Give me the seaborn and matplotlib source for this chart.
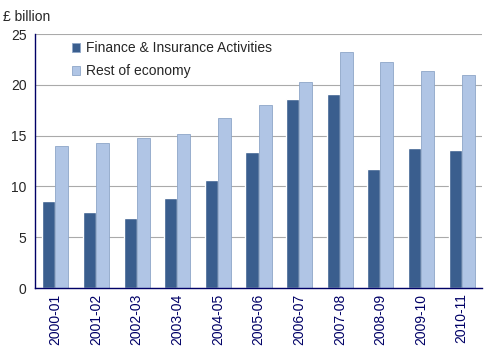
import pandas as pd
import seaborn as sns
import matplotlib.pyplot as plt

# data
years = ["2000-01", "2001-02", "2002-03", "2003-04", "2004-05", "2005-06",
         "2006-07", "2007-08", "2008-09", "2009-10", "2010-11"]
finance = [8.6, 7.5, 6.9, 8.9, 10.6, 13.4, 18.6, 19.1, 11.7, 13.8, 13.6]
rest = [14.0, 14.3, 14.8, 15.2, 16.7, 18.0, 20.3, 23.2, 22.2, 21.4, 20.95]
series = ["Finance & Insurance Activities", "Rest of economy"]

df = pd.DataFrame({
    "year": years * 2,
    "value": finance + rest,
    "series": [series[0]] * len(years) + [series[1]] * len(years),
})

sns.set_style("white")
plt.rcParams['font.family'] = ['Liberation Sans', 'DejaVu Sans']

navy = "#000066"
fs = 10
fig = plt.figure(figsize=(5.02, 3.51), dpi=100)
ax = fig.add_axes([35 / 502, 1 - 288 / 351, 447 / 502, 254 / 351])

sns.barplot(data=df, x="year", y="value", hue="series", order=years,
            hue_order=series, palette=["#3A5E8E", "#B0C5E5"],
            width=0.64, gap=0, saturation=1, ax=ax, legend=True)
for p in ax.patches[len(years):2 * len(years)]:
    p.set_edgecolor("#8EA6C8")
    p.set_linewidth(0.6)

ax.set_ylim(0, 25)
ax.set_xlim(-0.5, len(years) - 0.5)
ax.set_yticks(range(0, 26, 5))
ax.yaxis.grid(True, color="#aaaaaa", linewidth=0.8)
ax.set_axisbelow(True)
ax.set_xlabel("")
ax.set_ylabel("")

# ticks at the category boundaries, labels in the middle
ax.set_xticks([i - 0.5 for i in range(len(years) + 1)])
ax.set_xticklabels([])
ax.set_xticks(range(len(years)), minor=True)
ax.set_xticklabels(years, minor=True, rotation=90, fontsize=fs, color=navy)
ax.tick_params(axis="x", which="major", length=4, color=navy, direction="out")
ax.tick_params(axis="x", which="minor", length=0, pad=4)
ax.tick_params(axis="y", length=4, color=navy, labelsize=fs, direction="out", pad=2)

for s in ["top", "right"]:
    ax.spines[s].set_visible(False)
for s in ["left", "bottom"]:
    ax.spines[s].set_color(navy)
    ax.spines[s].set_linewidth(1)

fig.text(3 / 502, 1 - 17 / 351, "£ billion", fontsize=fs, va="center")

leg = ax.legend(loc="upper left", bbox_to_anchor=(0.055, 1.02), frameon=False,
                fontsize=fs, handlelength=0.6, handleheight=0.6,
                handletextpad=0.4, labelspacing=0.65)
for h in leg.legend_handles:
    h.set_edgecolor("#8EA6C8")
    h.set_linewidth(0.6)

fig.savefig("out.png", dpi=100)
